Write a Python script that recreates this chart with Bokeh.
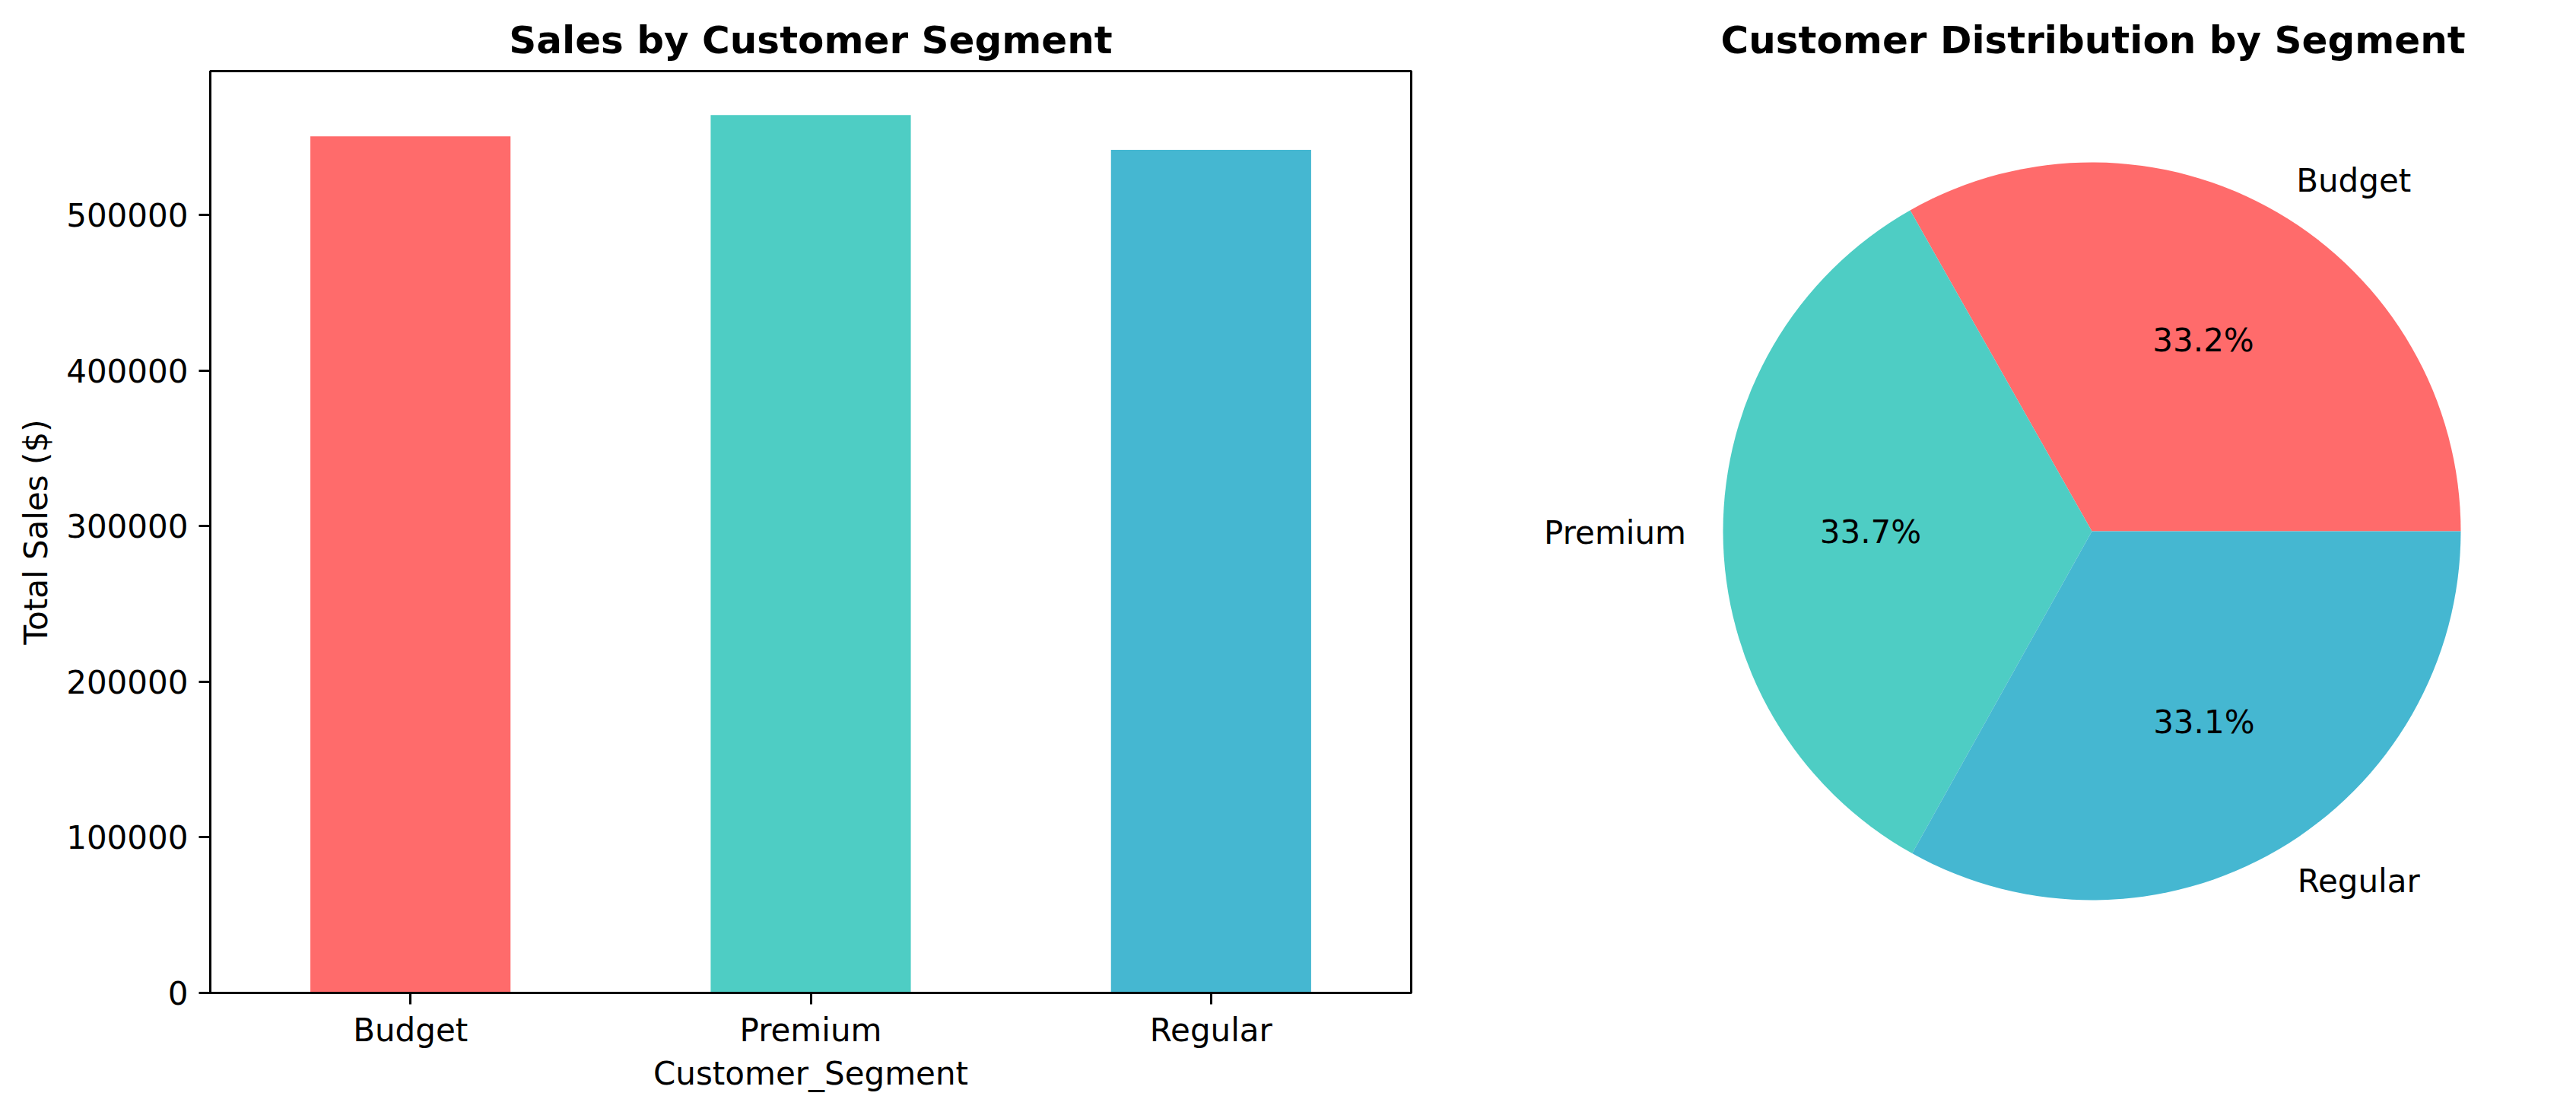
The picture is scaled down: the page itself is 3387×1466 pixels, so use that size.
import math
from bokeh.plotting import figure
from bokeh.models import ColumnDataSource, FactorRange, Range1d, FixedTicker, BasicTickFormatter
from bokeh.layouts import row
from bokeh.core.properties import value
from bokeh.embed import file_html
from bokeh.resources import INLINE

# ---- data ----
segments = ["Budget", "Premium", "Regular"]
total_sales = [550700, 564400, 542000]
customer_share = [33.2, 33.7, 33.1]
colors = ["#FF6B6B", "#4ECDC4", "#45B7D1"]
y_ticks = [0, 100000, 200000, 300000, 400000, 500000]

FONT = "DejaVu Sans"
TICK_PX = "42px"
TITLE_PX = "50px"

H = 1450
BAR_W = 1938
PIE_W = 3371 - BAR_W
TOP = 93
BOTTOM = H - 1305

# ---- bar chart ----
p1 = figure(width=BAR_W, height=H, output_backend="svg", toolbar_location=None,
            x_range=FactorRange(*segments, range_padding=0),
            y_range=Range1d(0, max(total_sales) * 1.05),
            title="Sales by Customer Segment",
            min_border_left=276, min_border_right=BAR_W - 1855,
            min_border_top=TOP, min_border_bottom=BOTTOM)
p1.vbar(x=segments, top=total_sales, width=0.5, fill_color=colors, line_color=None)
p1.xgrid.visible = False
p1.ygrid.visible = False
p1.outline_line_color = "black"
p1.outline_line_width = 3
p1.background_fill_color = "white"
p1.border_fill_color = "white"
p1.title.align = "center"
p1.title.text_font = FONT
p1.title.text_font_size = TITLE_PX
p1.title.text_font_style = "bold"
p1.title.text_color = "black"
p1.title.standoff = 24

p1.yaxis.ticker = FixedTicker(ticks=y_ticks)
p1.yaxis.formatter = BasicTickFormatter(use_scientific=False)
p1.yaxis.axis_label = "Total Sales ($)"
p1.xaxis.axis_label = "Customer_Segment"
for ax in (p1.xaxis, p1.yaxis):
    ax.axis_line_width = 3
    ax.axis_line_color = "black"
    ax.major_tick_line_width = 3
    ax.major_tick_line_color = "black"
    ax.major_tick_out = 15
    ax.major_tick_in = 0
    ax.minor_tick_out = 0
    ax.minor_tick_in = 0
    ax.major_label_text_font = FONT
    ax.major_label_text_font_size = TICK_PX
    ax.major_label_text_color = "black"
    ax.axis_label_text_font = FONT
    ax.axis_label_text_font_size = TICK_PX
    ax.axis_label_text_font_style = "normal"
    ax.axis_label_text_color = "black"
p1.yaxis.major_label_standoff = 14
p1.yaxis.axis_label_standoff = 12
p1.xaxis.major_label_standoff = 9
p1.xaxis.axis_label_standoff = 5

# ---- pie chart ----
R = 485
CX, CY = 2750, 698  # pie centre on the page
p2 = figure(width=PIE_W, height=H, output_backend="svg", toolbar_location=None,
            x_range=Range1d(BAR_W - CX, BAR_W + PIE_W - CX),
            y_range=Range1d(CY - 1305, CY - TOP),
            x_axis_type=None, y_axis_type=None,
            title="Customer Distribution by Segment",
            min_border_left=0, min_border_right=0,
            min_border_top=TOP, min_border_bottom=BOTTOM)
p2.xgrid.visible = False
p2.ygrid.visible = False
p2.outline_line_color = None
p2.title.align = "left"
p2.title.offset = 2262 - BAR_W
p2.title.text_font = FONT
p2.title.text_font_size = TITLE_PX
p2.title.text_font_style = "bold"
p2.title.text_color = "black"
p2.title.standoff = 24

total = sum(customer_share)
starts, ends, lx, ly, la, px, py, pt = [], [], [], [], [], [], [], []
acc = 0.0
for v in customer_share:
    a0 = acc / total * 2 * math.pi
    acc += v
    a1 = acc / total * 2 * math.pi
    starts.append(a0)
    ends.append(a1)
    mid = (a0 + a1) / 2
    cx, cy = math.cos(mid), math.sin(mid)
    lx.append(1.1 * R * cx)
    ly.append(1.1 * R * cy)
    la.append("left" if cx > 0 else "right")
    px.append(0.6 * R * cx)
    py.append(0.6 * R * cy)
    pt.append("%.1f%%" % (v / total * 100))

wsrc = ColumnDataSource(dict(start=starts, end=ends, color=colors))
p2.wedge(x=0, y=0, radius=R, start_angle="start", end_angle="end",
         fill_color="color", line_color=None, source=wsrc)

lsrc = ColumnDataSource(dict(x=lx, y=ly, text=segments, align=la))
p2.text(x="x", y="y", text="text", text_align="align", text_baseline="middle",
        text_font=value(FONT), text_font_size=value(TICK_PX), text_color="black", source=lsrc)
psrc = ColumnDataSource(dict(x=px, y=py, text=pt))
p2.text(x="x", y="y", text="text", text_align="center", text_baseline="middle",
        text_font=value(FONT), text_font_size=value(TICK_PX), text_color="black", source=psrc)

layout = row(p1, p2)
open("out.html", "w").write(file_html(layout, INLINE))
